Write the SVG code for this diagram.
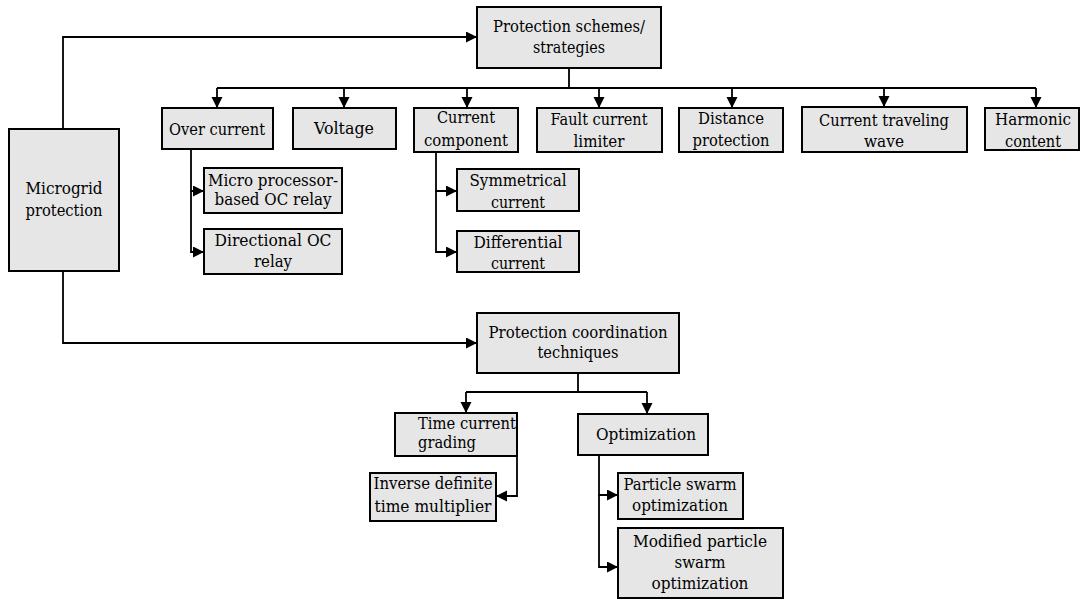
<svg xmlns="http://www.w3.org/2000/svg" width="1081" height="600" viewBox="0 0 1081 600">
<style>
.box{fill:#e6e6e6;stroke:#000;stroke-width:2}
text{font-family:'DejaVu Serif','Liberation Serif',serif;font-size:17.5px;fill:#000}
.t{text-anchor:middle}
.tl{text-anchor:start}
.c{fill:none;stroke:#000;stroke-width:1.8}
.a{marker-end:url(#ah)}
</style>
<defs>
<marker id="ah" markerUnits="userSpaceOnUse" markerWidth="12" markerHeight="12" refX="11" refY="5.5" orient="auto">
<path d="M0,0 L11,5.5 L0,11 z" fill="#000"/>
</marker>
</defs>
<rect width="1081" height="600" fill="#fff"/>
<g id="connectors">
<path class="c a" d="M63,129 V37 H477"/>
<path class="c a" d="M63,271 V343 H477"/>
<path class="c" d="M569,68 V88 M217,88 H1036"/>
<path class="c a" d="M217,88 V108"/>
<path class="c a" d="M344,88 V108"/>
<path class="c a" d="M467,88 V108"/>
<path class="c a" d="M599,88 V108"/>
<path class="c a" d="M732,88 V108"/>
<path class="c a" d="M884,88 V107"/>
<path class="c a" d="M1036,88 V108"/>
<path class="c a" d="M191,149 V191 H204"/>
<path class="c a" d="M191,191 V252 H204"/>
<path class="c a" d="M436,152 V191 H457"/>
<path class="c a" d="M436,191 V252 H457"/>
<path class="c" d="M578,373 V392 M466,392 H647"/>
<path class="c a" d="M466,392 V413"/>
<path class="c a" d="M647,392 V414"/>
<path class="c a" d="M517,456 V496 H496"/>
<path class="c a" d="M599,455 V495 H618"/>
<path class="c a" d="M599,495 V567 H618"/>
</g>
<g id="microgrid"><rect class="box" x="9" y="129" width="110" height="142"/><text class="t" x="64" y="194" textLength="77" lengthAdjust="spacingAndGlyphs">Microgrid</text><text class="t" x="64" y="216" textLength="77" lengthAdjust="spacingAndGlyphs">protection</text></g>
<g id="schemes"><rect class="box" x="477" y="7" width="184" height="61"/><text class="t" x="569" y="32" textLength="152" lengthAdjust="spacingAndGlyphs">Protection schemes/</text><text class="t" x="569" y="53" textLength="72" lengthAdjust="spacingAndGlyphs">strategies</text></g>
<g id="overcurrent"><rect class="box" x="162" y="108" width="111" height="41"/><text class="t" x="217" y="135" textLength="96" lengthAdjust="spacingAndGlyphs">Over current</text></g>
<g id="voltage"><rect class="box" x="293" y="108" width="103" height="41"/><text class="t" x="344" y="134" textLength="60" lengthAdjust="spacingAndGlyphs">Voltage</text></g>
<g id="currentcomponent"><rect class="box" x="414" y="108" width="104" height="44"/><text class="t" x="466" y="123" textLength="58" lengthAdjust="spacingAndGlyphs">Current</text><text class="t" x="466" y="146" textLength="84" lengthAdjust="spacingAndGlyphs">component</text></g>
<g id="fcl"><rect class="box" x="537" y="108" width="125" height="44"/><text class="t" x="599" y="125" textLength="97" lengthAdjust="spacingAndGlyphs">Fault current</text><text class="t" x="599" y="147" textLength="51" lengthAdjust="spacingAndGlyphs">limiter</text></g>
<g id="distance"><rect class="box" x="679" y="108" width="104" height="44"/><text class="t" x="731" y="124" textLength="66" lengthAdjust="spacingAndGlyphs">Distance</text><text class="t" x="731" y="146" textLength="77" lengthAdjust="spacingAndGlyphs">protection</text></g>
<g id="travelingwave"><rect class="box" x="802" y="107" width="165" height="45"/><text class="t" x="884" y="126" textLength="130" lengthAdjust="spacingAndGlyphs">Current traveling</text><text class="t" x="884" y="147" textLength="40" lengthAdjust="spacingAndGlyphs">wave</text></g>
<g id="harmonic"><rect class="box" x="985" y="108" width="94" height="42"/><text class="t" x="1033" y="125" textLength="76" lengthAdjust="spacingAndGlyphs">Harmonic</text><text class="t" x="1033" y="147" textLength="56" lengthAdjust="spacingAndGlyphs">content</text></g>
<g id="microprocessor"><rect class="box" x="204" y="168" width="138" height="45"/><text class="t" x="273" y="186" textLength="130" lengthAdjust="spacingAndGlyphs">Micro processor-</text><text class="t" x="273" y="205" textLength="117" lengthAdjust="spacingAndGlyphs">based OC relay</text></g>
<g id="directional"><rect class="box" x="204" y="229" width="138" height="45"/><text class="t" x="273" y="246" textLength="117" lengthAdjust="spacingAndGlyphs">Directional OC</text><text class="t" x="273" y="267" textLength="38" lengthAdjust="spacingAndGlyphs">relay</text></g>
<g id="symmetrical"><rect class="box" x="457" y="169" width="122" height="42"/><text class="t" x="518" y="186" textLength="97" lengthAdjust="spacingAndGlyphs">Symmetrical</text><text class="t" x="518" y="208" textLength="54" lengthAdjust="spacingAndGlyphs">current</text></g>
<g id="differential"><rect class="box" x="457" y="231" width="122" height="41"/><text class="t" x="518" y="248" textLength="89" lengthAdjust="spacingAndGlyphs">Differential</text><text class="t" x="518" y="269" textLength="54" lengthAdjust="spacingAndGlyphs">current</text></g>
<g id="coordination"><rect class="box" x="477" y="313" width="202" height="60"/><text class="t" x="578" y="338" textLength="179" lengthAdjust="spacingAndGlyphs">Protection coordination</text><text class="t" x="578" y="358" textLength="81" lengthAdjust="spacingAndGlyphs">techniques</text></g>
<g id="timecurrent"><rect class="box" x="395" y="413" width="122" height="43"/><text class="tl" x="418" y="429" textLength="98" lengthAdjust="spacingAndGlyphs">Time current</text><text class="tl" x="418" y="448" textLength="58" lengthAdjust="spacingAndGlyphs">grading</text></g>
<g id="optimization"><rect class="box" x="578" y="414" width="130" height="41"/><text class="t" x="646" y="440" textLength="100" lengthAdjust="spacingAndGlyphs">Optimization</text></g>
<g id="inverse"><rect class="box" x="370" y="473" width="126" height="48"/><text class="t" x="433" y="489" textLength="119" lengthAdjust="spacingAndGlyphs">Inverse definite</text><text class="t" x="433" y="512" textLength="117" lengthAdjust="spacingAndGlyphs">time multiplier</text></g>
<g id="pso"><rect class="box" x="618" y="473" width="125" height="46"/><text class="t" x="680" y="490" textLength="113" lengthAdjust="spacingAndGlyphs">Particle swarm</text><text class="t" x="680" y="511" textLength="96" lengthAdjust="spacingAndGlyphs">optimization</text></g>
<g id="mpso"><rect class="box" x="618" y="528" width="165" height="70"/><text class="t" x="700" y="547" textLength="134" lengthAdjust="spacingAndGlyphs">Modified particle</text><text class="t" x="700" y="568" textLength="51" lengthAdjust="spacingAndGlyphs">swarm</text><text class="t" x="700" y="589" textLength="97" lengthAdjust="spacingAndGlyphs">optimization</text></g>
</svg>
